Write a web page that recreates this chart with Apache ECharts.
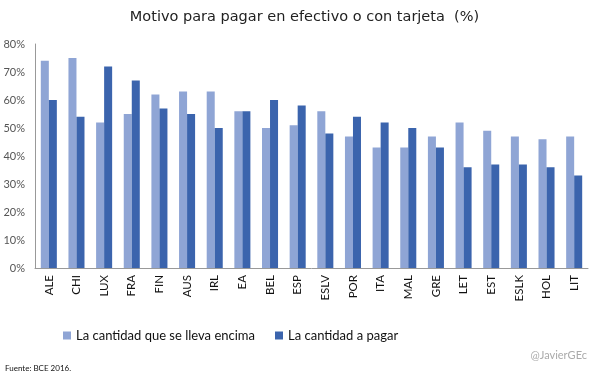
<!DOCTYPE html>
<html><head><meta charset="utf-8">
<script src="https://cdn.jsdelivr.net/npm/echarts@6/dist/echarts.min.js"></script>
<style>html,body{margin:0;padding:0;background:#fff}#c{width:609px;height:378px}</style>
</head><body><div id="c"></div>
<script>
var categories = ['ALE','CHI','LUX','FRA','FIN','AUS','IRL','EA','BEL','ESP','ESLV','POR','ITA','MAL','GRE','LET','EST','ESLK','HOL','LIT'];
var llevaEncima = [74,75,52,55,62,63,63,56,50,51,56,47,43,43,47,52,49,47,46,47];
var aPagar = [60,54,72,67,57,55,50,56,60,58,48,54,52,50,43,36,37,37,36,33];
var yTicks = [0,10,20,30,40,50,60,70,80];
var font = 'Lato, "DejaVu Sans", sans-serif';
var chart = echarts.init(document.getElementById('c'));
chart.setOption({
  animation:false,
  title:{text:'Motivo para pagar en efectivo o con tarjeta  (%)',left:'center',top:5,
    textStyle:{fontFamily:'"DejaVu Sans", sans-serif',fontWeight:'normal',fontSize:14.5,color:'#222'}},
  grid:{left:35,right:21,top:44,bottom:110},
  legend:{bottom:31,left:58,itemWidth:8,itemHeight:8,itemGap:20,icon:'rect',
    textStyle:{fontFamily:font,fontSize:13,color:'#111'},
    data:['La cantidad que se lleva encima','La cantidad a pagar']},
  graphic:[
    {type:'text',left:5,top:364,style:{text:'Fuente: BCE 2016.',font:'8px '+font,fill:'#111'}},
    {type:'text',right:22,top:350,style:{text:'@JavierGEc',font:'11px '+font,fill:'#aaa'}}
  ],
  xAxis:{type:'category',data:categories,
    axisLine:{lineStyle:{color:'#999'}},axisTick:{show:false},
    axisLabel:{rotate:90,fontFamily:font,fontSize:11.5,color:'#111',margin:7}},
  yAxis:{type:'value',min:0,max:80,interval:10,
    axisLine:{show:true,lineStyle:{color:'#999'}},axisTick:{show:false},splitLine:{show:false},
    axisLabel:{fontFamily:font,fontSize:11,color:'#555',margin:10,
      formatter:function(v){return yTicks.indexOf(v)>=0? v+'%':'';}}},
  series:[
    {name:'La cantidad que se lleva encima',type:'bar',data:llevaEncima,barGap:'0%',barCategoryGap:'42%',
      itemStyle:{color:'#8FA5D5'}},
    {name:'La cantidad a pagar',type:'bar',data:aPagar,barGap:'0%',barCategoryGap:'42%',
      itemStyle:{color:'#3B64AD'}}
  ]
});
</script></body></html>
